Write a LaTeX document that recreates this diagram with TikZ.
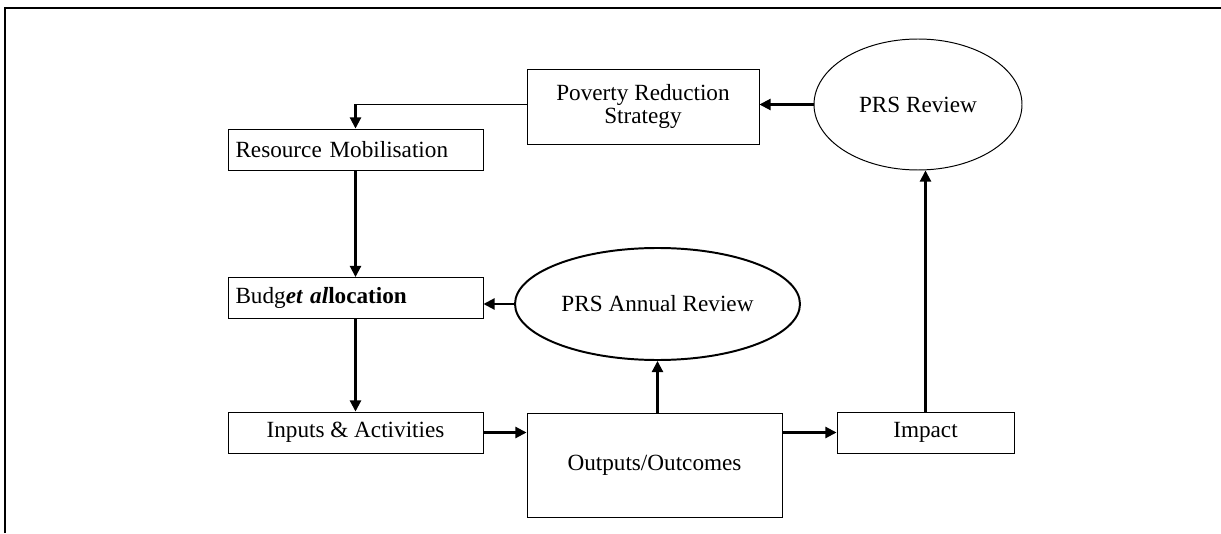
\documentclass[tikz,border=0pt]{standalone}
\usepackage{fontspec}
\setmainfont{Liberation Serif}
\usetikzlibrary{arrows.meta,shapes.geometric}

\begin{document}
\begin{tikzpicture}[font=\fontsize{16.5}{17}\selectfont,
  box/.style={draw,line width=0.7pt,minimum height=1.025cm,inner xsep=0.1875cm},
  wide/.style={box,text width=6cm,align=left},
  oval/.style={draw,ellipse,inner sep=0pt},
  flow/.style={-{Triangle[length=8pt,width=8pt]},line width=1.5pt}]
  \useasboundingbox (0,0) rectangle (30.525,13.325);
  % page frame, open at right and bottom
  \draw[line width=1.4pt] (0.125,0) -- (0.125,13.125) -- (30.525,13.125);

  \node[box,minimum width=5.8cm,minimum height=1.875cm,align=center] (strat) at (16.075,10.6625) {Poverty Reduction\\Strategy};
  \node[oval,line width=0.7pt,minimum width=5.2cm,minimum height=3.275cm] (review) at (22.95,10.7125) {PRS Review};
  \node[wide] (resmob) at (8.8875,9.5875) {Resource Mobilisation};
  \node[wide] (budget) at (8.8875,5.875) {Budg\textbf{\textit{et al}}\textbf{location}};
  \node[box,minimum width=6.375cm] (inputs) at (8.8875,2.5125) {Inputs \& Activities};
  \node[oval,line width=1.4pt,minimum width=7.125cm,minimum height=2.8cm] (annual) at (16.4375,5.725) {PRS Annual Review};
  \node[box,minimum width=6.375cm,minimum height=2.6cm] (outputs) at (16.3625,1.7) {Outputs/Outcomes};
  \node[box,minimum width=4.425cm] (impact) at (23.1375,2.5125) {Impact};

  % review loop back to the strategy
  \draw[flow] (review.west) -- (review.west -| strat.east);
  \draw[line width=0.7pt] (review.west -| strat.west) -- (review.west -| resmob.north);
  \draw[flow] (review.west -| resmob.north) -- (resmob.north);
  \draw[flow] (resmob) -- (budget);
  \draw[flow] (budget) -- (inputs);
  \draw[flow] (inputs.east) -- (inputs.east -| outputs.west);
  \draw[flow] (outputs.east |- impact.west) -- (impact.west);
  \draw[flow] (annual.south |- outputs.north) -- (annual.south);
  \draw[flow] (annual.west) -- (annual.west -| budget.east);
  \draw[flow] (impact.north) -- (impact.north |- review.south);
\end{tikzpicture}
\end{document}
